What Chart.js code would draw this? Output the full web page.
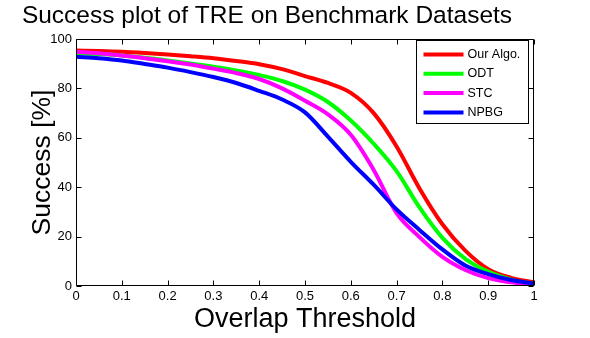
<!DOCTYPE html>
<html>
<head>
<meta charset="utf-8">
<script src="https://cdn.jsdelivr.net/npm/chart.js@4/dist/chart.umd.min.js"></script>
<style>
  html, body { margin: 0; padding: 0; background: #fff; }
  canvas { display: block; }
</style>
</head>
<body>
<canvas id="successChart" width="590" height="338"></canvas>
<script>
// overlap threshold (x) and success rate in % for each tracker
const thresholds = [0, 0.05, 0.1, 0.15, 0.2, 0.25, 0.3, 0.35, 0.4, 0.45, 0.5,
  0.55, 0.6, 0.65, 0.7, 0.75, 0.8, 0.85, 0.9, 0.95, 1];
const ourAlgo = [95.3, 95.1, 94.8, 94.3, 93.7, 93.0, 92.2, 91.1, 89.8, 87.8, 85.0,
  82.2, 78.2, 70.0, 56.5, 39.5, 25.0, 14.3, 6.8, 3.3, 1.5];
const odt = [94.3, 93.9, 93.3, 92.4, 91.3, 90.1, 88.8, 87.3, 85.4, 83.0, 79.5,
  74.5, 67.0, 57.6, 46.5, 31.8, 19.5, 11.0, 5.8, 2.6, 0.8];
const stc = [94.8, 94.2, 93.3, 92.2, 91.0, 89.7, 88.0, 86.2, 83.8, 80.0, 75.0,
  69.5, 61.2, 47.0, 29.5, 19.8, 11.8, 6.5, 3.2, 1.5, 0.3];
const npbg = [92.8, 92.2, 91.3, 89.9, 88.4, 86.6, 84.6, 82.2, 79.0, 75.5, 70.3,
  60.5, 50.3, 41.0, 31.0, 22.7, 14.8, 8.3, 4.8, 2.4, 1.0];

const seriesNames = ["Our Algo.", "ODT", "STC", "NPBG"];
const seriesColors = ["#ff0000", "#00ff00", "#ff00ff", "#0000ff"];
const seriesValues = [ourAlgo, odt, stc, npbg];

Chart.defaults.font.family = "'Liberation Sans', Arial, sans-serif";
Chart.defaults.color = "#000";

// box around the axes, inward ticks on all four sides, legend in the corner
const matlabFrame = {
  id: "matlabFrame",
  afterDatasetsDraw(chart) {
    const { ctx, chartArea: a, scales } = chart;
    const L = Math.round(a.left) + 0.5, R = Math.round(a.right) - 0.5;
    const T = Math.round(a.top) + 0.5, B = Math.round(a.bottom) - 0.5;
    ctx.save();
    ctx.strokeStyle = "#000";
    ctx.lineWidth = 1;
    ctx.beginPath();
    ctx.rect(L, T, R - L, B - T);
    const tick = 5;
    scales.x.ticks.forEach((t) => {
      const px = Math.round(scales.x.getPixelForValue(t.value)) + 0.5;
      ctx.moveTo(px, B); ctx.lineTo(px, B - tick);
      ctx.moveTo(px, T); ctx.lineTo(px, T + tick);
    });
    scales.y.ticks.forEach((t) => {
      const py = Math.round(scales.y.getPixelForValue(t.value)) + 0.5;
      ctx.moveTo(L, py); ctx.lineTo(L + tick, py);
      ctx.moveTo(R, py); ctx.lineTo(R - tick, py);
    });
    ctx.stroke();

    // legend
    const w = 112, h = 83;
    const bx = Math.round(a.right) - 6 - w + 0.5;
    const by = Math.round(a.top) + 1.5;
    ctx.fillStyle = "#fff";
    ctx.fillRect(bx, by, w, h);
    ctx.strokeRect(bx, by, w, h);
    ctx.font = "12.5px 'Liberation Sans', Arial, sans-serif";
    ctx.textBaseline = "middle";
    chart.data.datasets.forEach((ds, i) => {
      const y = by + 14 + i * 19.3;
      ctx.strokeStyle = ds.borderColor;
      ctx.lineWidth = 4;
      ctx.beginPath();
      ctx.moveTo(bx + 7, y);
      ctx.lineTo(bx + 47, y);
      ctx.stroke();
      ctx.fillStyle = "#000";
      ctx.fillText(ds.label, bx + 51, y);
    });
    ctx.restore();
  }
};

new Chart(document.getElementById("successChart"), {
  type: "line",
  data: {
    datasets: seriesNames.map((name, i) => ({
      label: name,
      data: thresholds.map((x, j) => ({ x: x, y: seriesValues[i][j] })),
      borderColor: seriesColors[i],
      borderWidth: 4,
      pointRadius: 0,
      fill: false,
      cubicInterpolationMode: "monotone",
      order: 4 - i,
    })),
  },
  options: {
    responsive: false,
    animation: false,
    layout: { padding: { left: 0, top: 0, right: 56, bottom: 0 } },
    plugins: {
      legend: { display: false },
      tooltip: { enabled: false },
      title: {
        display: true,
        text: "Success plot of TRE on Benchmark Datasets",
        color: "#000",
        font: { size: 24.5, weight: "normal" },
        padding: { top: 2, bottom: 7.6 },
      },
    },
    scales: {
      x: {
        type: "linear",
        min: 0,
        max: 1,
        grid: { display: false, drawTicks: false },
        border: { display: false },
        ticks: {
          stepSize: 0.1, padding: 3, maxRotation: 0, autoSkip: false, color: "#000", font: { size: 13 },
          callback: (v) => String(Math.round(v * 10) / 10),
        },
        title: {
          display: true,
          text: "Overlap Threshold",
          color: "#000",
          font: { size: 27 },
          padding: { top: 0, bottom: 1.8 },
        },
        afterFit: (scale) => { scale.height = 52; },
      },
      y: {
        min: 0,
        max: 100,
        grid: { display: false, drawTicks: false },
        border: { display: false },
        ticks: { stepSize: 20, padding: 4, color: "#000", font: { size: 13 } },
        title: {
          display: true,
          text: "Success [%]",
          color: "#000",
          font: { size: 26.5 },
          padding: { top: 26.6, bottom: 0 },
        },
        afterFit: (scale) => { scale.width = 76; },
      },
    },
  },
  plugins: [matlabFrame],
});
</script>
</body>
</html>
